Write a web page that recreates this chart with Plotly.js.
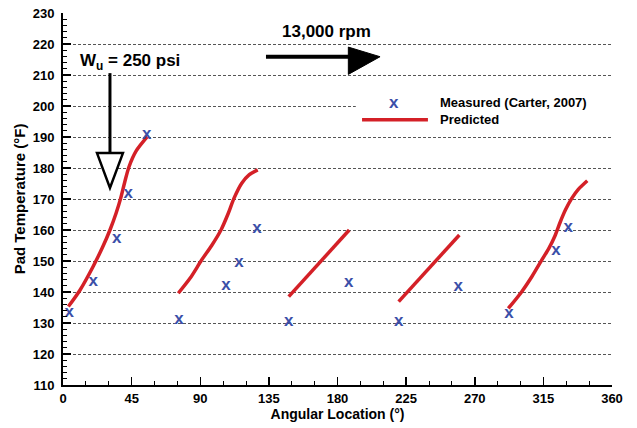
<!DOCTYPE html>
<html><head><meta charset="utf-8">
<script src="https://cdn.plot.ly/plotly-3.0.1.min.js"></script>
<style>html,body{margin:0;padding:0;background:#fff}#chart{width:637px;height:428px}</style>
</head><body><div id="chart"></div>
<script>
// Measured pad temperatures (Carter, 2007)
const measuredAngle = [4.1, 19.9, 35.2, 42.8, 54.9, 76.1, 106.9, 115.4, 127.2, 148.0, 187.3, 220.1, 259.2, 292.5, 323.3, 331.3];
const measuredTemp  = [133.3, 143.3, 157.3, 171.8, 190.6, 131.0, 141.9, 149.5, 160.3, 130.4, 143.0, 130.4, 141.7, 133.1, 153.3, 160.7];

// Predicted pad temperature curves (one per pad)
const pad1Angle = [3.5, 11, 19.5, 26, 30.8, 34.8, 37.8, 40.5, 43.3, 48, 55.3];
const pad1Temp  = [135.3, 140.5, 148, 154.5, 160, 165.4, 170.2, 175.5, 180.4, 185.5, 190.1];
const pad2Angle = [75.6, 83.3, 90.9, 97.5, 103.6, 108.4, 112.1, 117.2, 122, 127.7];
const pad2Temp  = [139.6, 144.4, 150.3, 155, 160, 165.4, 170.2, 175.1, 177.8, 179.4];
const pad3Angle = [148, 187.7];
const pad3Temp  = [138.5, 160];
const pad4Angle = [220.1, 259.9];
const pad4Temp  = [136.9, 158.4];
const pad5Angle = [292, 300.8, 307.5, 313.9, 318.5, 322.5, 326, 329.5, 333.6, 337.9, 343.8];
const pad5Temp  = [134.7, 140.1, 145, 150.3, 154, 158, 162.5, 166.5, 170.2, 173.1, 175.9];

const legendLabels = ['Measured (Carter, 2007)', 'Predicted'];

const RED = '#d42027', BLUE = '#3b4fa8';
const FONT = 'Liberation Sans, Arial, sans-serif';

const padCurves = [[pad1Angle, pad1Temp], [pad2Angle, pad2Temp], [pad3Angle, pad3Temp], [pad4Angle, pad4Temp], [pad5Angle, pad5Temp]];
const traces = padCurves.map((c, i) => ({
  x: c[0], y: c[1], type: 'scatter', mode: 'lines', name: legendLabels[1],
  line: {color: RED, width: 3.5, shape: 'spline', smoothing: 0.8},
  showlegend: false, hoverinfo: 'x+y'
}));
traces.push({
  x: measuredAngle, y: measuredTemp, type: 'scatter', mode: 'text', name: legendLabels[0],
  text: measuredAngle.map(() => 'x'), textposition: 'middle center',
  textfont: {family: FONT, size: 17, color: BLUE, weight: 'bold'},
  showlegend: false
});

const layout = {
  width: 637, height: 428,
  margin: {l: 63, r: 25, t: 13, b: 43},
  paper_bgcolor: '#fff', plot_bgcolor: '#fff',
  font: {family: FONT, color: '#000', weight: 'bold'},
  showlegend: false,
  xaxis: {
    range: [0, 360], dtick: 45, tick0: 0,
    ticks: 'inside', ticklen: 8, tickwidth: 1.5, tickcolor: '#000',
    minor: {dtick: 15, ticks: 'inside', ticklen: 4, tickwidth: 1, tickcolor: '#000', showgrid: false},
    showline: true, linecolor: '#000', linewidth: 2, mirror: false,
    showgrid: false, zeroline: false,
    tickfont: {family: FONT, size: 13, color: '#000', weight: 'bold'},
    title: {text: 'Angular Location (°)', font: {family: FONT, size: 14, color: '#000', weight: 'bold'}, standoff: 4}
  },
  yaxis: {
    range: [110, 230], dtick: 10, tick0: 110,
    ticks: 'inside', ticklen: 8, tickwidth: 1.5, tickcolor: '#000',
    minor: {dtick: 2, ticks: 'inside', ticklen: 4, tickwidth: 1, tickcolor: '#000', showgrid: false},
    showline: true, linecolor: '#000', linewidth: 2, mirror: false,
    showgrid: true, gridcolor: '#555', gridwidth: 1, griddash: '3px,2px',
    zeroline: false, ticklabelstandoff: 4,
    tickfont: {family: FONT, size: 13, color: '#000', weight: 'bold'},
    title: {text: 'Pad Temperature (°F)', font: {family: FONT, size: 15, color: '#000', weight: 'bold'}, standoff: 3}
  },
  shapes: [
    // legend background
    {type: 'rect', xref: 'x', yref: 'y', x0: 192, x1: 360, y0: 192.3, y1: 204.5, layer: 'between', fillcolor: '#fff', line: {width: 0}},
    // legend line sample
    {type: 'line', xref: 'x', yref: 'y', x0: 196.1, x1: 239.3, y0: 195.6, y1: 195.6, line: {color: RED, width: 3.5}},
    // load arrow (hollow head)
    {type: 'line', xref: 'x', yref: 'y', x0: 30.8, x1: 30.8, y0: 210.6, y1: 184.8, line: {color: '#000', width: 3}},
    {type: 'path', xref: 'x', yref: 'y', path: 'M 22.3 184.8 L 39.3 184.8 L 30.8 173.6 Z', fillcolor: '#fff', line: {color: '#000', width: 2.5}},
    // rotation arrow (filled head)
    {type: 'line', xref: 'x', yref: 'y', x0: 133.1, x1: 188, y0: 215.9, y1: 215.9, line: {color: '#000', width: 4}},
    {type: 'path', xref: 'x', yref: 'y', path: 'M 187.1 219.0 L 207.9 215.9 L 187.1 210.2 Z', fillcolor: '#000', line: {color: '#000', width: 1}}
  ],
  annotations: [
    {xref: 'x', yref: 'y', x: 9.8, y: 214.2, xanchor: 'left', yanchor: 'middle', showarrow: false,
     text: 'W<sub>u</sub> = 250 psi', font: {family: FONT, size: 17, color: '#000', weight: 'bold'}},
    {xref: 'x', yref: 'y', x: 172.5, y: 223.9, xanchor: 'center', yanchor: 'middle', showarrow: false,
     text: '13,000 rpm', font: {family: FONT, size: 17, color: '#000', weight: 'bold'}},
    {xref: 'x', yref: 'y', x: 217.0, y: 201.0, xanchor: 'center', yanchor: 'middle', showarrow: false,
     text: 'x', font: {family: FONT, size: 17, color: BLUE, weight: 'bold'}},
    {xref: 'x', yref: 'y', x: 245.9, y: 201.0, xanchor: 'left', yanchor: 'middle', showarrow: false,
     text: legendLabels[0], font: {family: FONT, size: 13, color: '#000', weight: 'bold'}},
    {xref: 'x', yref: 'y', x: 245.9, y: 195.6, xanchor: 'left', yanchor: 'middle', showarrow: false,
     text: legendLabels[1], font: {family: FONT, size: 13, color: '#000', weight: 'bold'}}
  ]
};

Plotly.newPlot('chart', traces, layout, {displayModeBar: false, staticPlot: true});
</script>
</body></html>
